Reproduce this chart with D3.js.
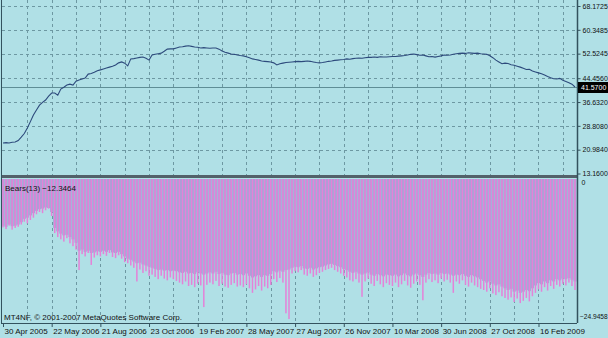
<!DOCTYPE html>
<html>
<head>
<meta charset="utf-8">
<script src="https://cdn.jsdelivr.net/npm/d3@7/dist/d3.min.js"></script>
<style>
  html, body { margin: 0; padding: 0; background: #b0e0e6; }
  svg { display: block; }
</style>
</head>
<body>
<div id="chart"></div>
<script>
const WIDTH = 608;
const HEIGHT = 338;
const FONT = '"Liberation Sans", Arial, sans-serif';

// weekly closes
const closes = [
  23.2, 23.3, 23.2, 23.4, 23.5, 24.0, 25.1, 26.3, 28.1, 30.2,
  32.4, 34.0, 35.6, 36.5, 37.3, 38.6, 39.6, 39.6, 38.9, 40.9,
  41.5, 42.2, 42.5, 42.2, 43.5, 43.9, 44.2, 44.5, 45.8, 46.0,
  46.4, 46.9, 47.2, 47.5, 47.8, 48.1, 48.4, 48.8, 49.5, 49.8,
  49.4, 48.5, 50.8, 50.9, 51.1, 51.3, 51.4, 51.0, 50.4, 52.1,
  52.3, 52.5, 52.7, 53.3, 54.0, 54.1, 54.1, 54.4, 54.7, 54.8,
  55.0, 55.1, 54.9, 54.7, 54.6, 54.4, 54.5, 54.4, 54.3, 54.4,
  54.4, 54.0, 53.4, 53.0, 52.7, 52.4, 52.3, 52.1, 51.9, 51.8,
  51.5, 51.2, 50.8, 50.6, 50.4, 50.1, 50.0, 49.9, 49.8, 49.5,
  48.8, 49.2, 49.4, 49.6, 49.7, 49.8, 49.9, 50.0, 49.9, 50.0,
  50.1, 50.0, 49.8, 49.6, 49.5, 49.6, 49.8, 50.0, 50.1, 50.3,
  50.4, 50.5, 50.6, 50.8, 50.7, 50.9, 51.0, 51.1, 51.0, 51.2,
  51.3, 51.3, 51.4, 51.3, 51.5, 51.4, 51.4, 51.5, 51.6, 51.6,
  51.7, 51.8, 51.9, 52.1, 52.3, 52.4, 52.2, 52.0, 52.1, 51.8,
  51.5, 51.6, 51.4, 51.6, 51.8, 52.1, 52.0, 52.1, 52.3, 52.5,
  52.6, 52.7, 52.6, 52.8, 52.7, 52.6, 52.7, 52.5, 52.4, 52.3,
  51.8, 51.2, 50.4, 49.8, 49.2, 49.4, 49.3, 48.9, 48.7, 48.4,
  48.1, 47.7, 47.3, 47.4, 46.8, 46.5, 46.2, 45.9, 45.5, 45.0,
  44.6, 44.3, 44.2, 44.4, 43.8, 43.4, 43.0, 42.5, 41.57
];

// Bears(13) histogram
const bears = [
  -8.5, -8.8, -8.2, -8.9, -8.6, -8.4, -8.0, -7.5, -7.8, -7.2,
  -6.8, -6.2, -5.8, -6.0, -5.5, -5.2, -6.5,
  -9.5, -10.2, -10.6, -11.0, -10.4, -11.3, -11.8, -12.4,
  -16.0, -13.2, -13.6, -13.0, -15.1, -13.8, -13.4, -13.6,
  -13.2, -13.5, -13.0, -13.7, -13.9, -13.4, -14.0, -14.6, -14.8,
  -15.2, -15.6, -18.0, -15.9, -16.5, -16.2, -17.0, -16.8,
  -17.2, -17.6, -17.0, -17.5, -17.8, -17.3, -17.6,
  -17.9, -18.2, -18.5, -18.0, -18.8, -18.6, -19.0, -18.4,
  -18.7, -22.5, -18.6,
  -18.2, -18.5, -17.9, -18.8, -18.4, -18.9, -19.1, -18.6, -18.3, -18.9, -18.7, -19.0, -18.5,
  -19.2, -20.0, -19.4, -18.8, -19.6, -18.9, -19.2, -18.6,
  -17.6, -18.1, -17.4, -18.2,
  -23.6, -24.6,
  -16.6, -16.2, -16.4, -16.0, -16.8,
  -17.0, -16.6, -17.2, -16.9, -16.5, -16.3, -16.0,
  -15.8, -15.6, -16.0, -16.3, -16.6, -17.0,
  -17.3, -17.8, -18.0, -17.6, -18.2, -20.7,
  -18.0, -17.5, -18.4, -18.8, -17.9, -18.5, -19.0, -18.3, -18.6,
  -18.8, -18.2, -19.0, -18.5, -17.9, -18.7, -19.1, -18.4, -18.0, -18.6, -21.3,
  -18.2, -17.6, -18.1, -17.8, -18.3, -17.5, -18.0, -17.7, -18.2,
  -20.0,
  -18.0, -18.4, -17.8, -18.6, -18.9, -18.2, -18.7, -19.0, -19.3,
  -19.5, -19.8, -19.2, -20.1, -20.4, -19.9, -20.6, -20.9,
  -21.2, -20.8, -21.6, -21.0, -21.8, -21.4, -20.9, -21.5, -20.6,
  -20.0, -19.4, -19.8, -19.0, -19.6, -18.8, -19.3, -18.6, -18.9, -18.4,
  -18.7, -18.2, -18.8, -19.5
];

// lighter band drawn between the bars
const bearsBand = [
  -8.2, -8.4, -8.0, -8.3, -8.2, -8.0, -7.6, -7.0, -6.8, -6.4,
  -6.0, -5.6, -5.3, -5.2, -5.0, -5.1, -5.8,
  -8.6, -9.2, -9.6, -9.9, -9.8, -10.2, -10.6, -11.2,
  -12.6, -12.4, -12.8, -12.6, -13.0, -12.9, -12.7, -12.8,
  -12.6, -12.8, -12.5, -12.9, -13.0, -12.8, -13.2, -13.6, -14.0,
  -14.2, -14.5, -14.8, -14.7, -15.0, -15.2, -15.4, -15.6,
  -15.8, -16.0, -15.9, -16.1, -16.0, -16.2, -16.1,
  -16.2, -16.4, -16.5, -16.3, -16.6, -16.5, -16.7, -16.4,
  -16.6, -16.8, -16.6,
  -16.4, -16.6, -16.3, -16.7, -16.5, -16.8, -16.9, -16.6, -16.5, -16.8, -16.7, -16.9, -16.6,
  -17.0, -17.3, -17.1, -16.9, -17.2, -16.9, -17.0, -16.7,
  -16.2, -16.4, -16.1, -16.3,
  -16.0, -15.9,
  -15.6, -15.4, -15.5, -15.3, -15.7,
  -15.8, -15.6, -15.9, -15.7, -15.5, -15.4, -15.2,
  -15.0, -14.9, -15.1, -15.3, -15.5, -15.8,
  -16.0, -16.3, -16.5, -16.3, -16.6, -16.8,
  -16.6, -16.4, -16.8, -17.0, -16.7, -16.9, -17.1, -16.8, -16.9,
  -17.0, -16.8, -17.1, -16.9, -16.6, -16.9, -17.1, -16.8, -16.6, -16.9, -17.2,
  -16.8, -16.5, -16.7, -16.6, -16.8, -16.5, -16.7, -16.6, -16.8,
  -17.0,
  -16.8, -16.9, -16.7, -17.0, -17.2, -16.9, -17.1, -17.3, -17.6,
  -17.9, -18.2, -18.0, -18.4, -18.7, -18.5, -18.9, -19.2,
  -19.5, -19.3, -19.8, -19.6, -20.0, -19.8, -19.5, -19.7, -19.2,
  -18.7, -18.3, -18.5, -18.0, -18.3, -17.8, -18.0, -17.6, -17.8, -17.5,
  -17.6, -17.4, -17.7, -18.0
];

const priceTicks = [68.1725, 60.3485, 52.5245, 44.4560, 36.6320, 28.8080, 20.9840, 13.1600];
const dateIndex = [0, 16, 32, 48, 64, 80, 96, 112, 128, 144, 160, 176];
const dateLabels = ['30 Apr 2005', '22 May 2006', '21 Aug 2006', '23 Oct 2006', '19 Feb 2007', '28 May 2007',
  '27 Aug 2007', '26 Nov 2007', '10 Mar 2008', '30 Jun 2008', '27 Oct 2008', '16 Feb 2009'];
const lastPrice = 41.57;
const bearsMin = -24.9458;
const bearsLast = -12.3464;

const COLORS = {
  bg: '#b0e0e6',
  grid: '#6d98a2',
  line: '#2d4a7c',
  level: '#5f8e96',
  axis: '#33525e',
  bar: '#e482d8',
  band: '#a2a5d5',
  text: '#111111'
};

const n = closes.length;
const plot = { left: 2, right: 577, top: 0, sep: 176, bottom: 323 };

const svg = d3.select('#chart')
  .append('svg')
  .attr('width', WIDTH)
  .attr('height', HEIGHT)
  .style('font-family', FONT);

svg.append('rect').attr('width', WIDTH).attr('height', HEIGHT).attr('fill', COLORS.bg);

const xScale = d3.scaleLinear().domain([0, n - 1]).range([3, 575]);
const yPrice = d3.scaleLinear().domain([13.16, 68.1725]).range([173.5, 6]);
const yBears = d3.scaleLinear().domain([bearsMin, 0]).range([321, 179]);
const step = xScale(1) - xScale(0);

// grid
const gridX = d3.range(8, n, 8);
svg.append('g')
  .selectAll('line')
  .data(gridX)
  .join('line')
  .attr('x1', (d) => Math.round(xScale(d)) + 0.5)
  .attr('x2', (d) => Math.round(xScale(d)) + 0.5)
  .attr('y1', plot.top)
  .attr('y2', plot.bottom)
  .attr('stroke', COLORS.grid)
  .attr('stroke-dasharray', '3,3');

svg.append('g')
  .selectAll('line')
  .data(priceTicks.slice(0, -1))
  .join('line')
  .attr('x1', plot.left)
  .attr('x2', plot.right)
  .attr('y1', (d) => Math.round(yPrice(d)) + 0.5)
  .attr('y2', (d) => Math.round(yPrice(d)) + 0.5)
  .attr('stroke', COLORS.grid)
  .attr('stroke-dasharray', '3,3');

// current price level
svg.append('line')
  .attr('x1', plot.left)
  .attr('x2', plot.right)
  .attr('y1', Math.round(yPrice(lastPrice)) + 0.5)
  .attr('y2', Math.round(yPrice(lastPrice)) + 0.5)
  .attr('stroke', COLORS.level);

// price line
svg.append('path')
  .datum(closes)
  .attr('fill', 'none')
  .attr('stroke', COLORS.line)
  .attr('stroke-width', 1.1)
  .attr('d', d3.line()
    .x((_d, i) => xScale(i))
    .y((d) => yPrice(d)));

// bears histogram
svg.append('g')
  .selectAll('rect')
  .data(bearsBand)
  .join('rect')
  .attr('x', (_d, i) => xScale(i) - step / 2)
  .attr('width', step)
  .attr('y', yBears(0))
  .attr('height', (d) => yBears(d) - yBears(0))
  .attr('fill', COLORS.band);

svg.append('g')
  .selectAll('rect')
  .data(bears)
  .join('rect')
  .attr('x', (_d, i) => xScale(i) - 0.75)
  .attr('width', 1.5)
  .attr('y', yBears(0))
  .attr('height', (d) => yBears(d) - yBears(0))
  .attr('fill', COLORS.bar);

// window borders
svg.append('rect')
  .attr('x', plot.left)
  .attr('y', plot.sep - 1)
  .attr('width', plot.right - plot.left)
  .attr('height', 3)
  .attr('fill', '#52616a');

svg.append('line')
  .attr('x1', 1.5).attr('x2', 1.5)
  .attr('y1', 0).attr('y2', plot.bottom)
  .attr('stroke', COLORS.axis);

svg.append('line')
  .attr('x1', 1).attr('x2', plot.right)
  .attr('y1', plot.bottom + 0.5).attr('y2', plot.bottom + 0.5)
  .attr('stroke', COLORS.axis);

// price axis
const priceAxis = svg.append('g')
  .attr('transform', `translate(${plot.right + 0.5},0)`)
  .call(d3.axisRight(yPrice).tickValues(priceTicks).tickFormat(d3.format('.4f')).tickSize(3).tickPadding(2));

// bears axis
const bearsAxis = svg.append('g')
  .attr('transform', `translate(${plot.right + 0.5},0)`)
  .call(d3.axisRight(yBears).tickValues([0, bearsMin]).tickFormat((d) => (d === 0 ? '0' : d3.format('.4f')(d))).tickSize(0).tickPadding(4));

bearsAxis.select('.domain').attr('d', `M0,${plot.sep}V${plot.bottom}`);
bearsAxis.selectAll('.tick').filter((d) => d === 0).attr('transform', 'translate(0,183)');
bearsAxis.selectAll('.tick').filter((d) => d !== 0).attr('transform', 'translate(0,317)')
  .select('text').attr('x', 2.5).attr('font-size', 6.6);

// date axis
const dateAxis = svg.append('g')
  .attr('transform', `translate(0,${plot.bottom})`)
  .call(d3.axisBottom(xScale).tickValues(dateIndex).tickFormat((_d, i) => dateLabels[i]).tickSize(4));

dateAxis.select('.domain').remove();
dateAxis.selectAll('text').attr('text-anchor', 'start').attr('x', 1).attr('dy', '0.55em');

[priceAxis, bearsAxis].forEach((g) => {
  g.attr('font-family', FONT).attr('font-size', 7);
});
dateAxis.attr('font-family', FONT).attr('font-size', 8);
[priceAxis, bearsAxis, dateAxis].forEach((g) => {
  g.selectAll('text').attr('fill', COLORS.text);
  g.selectAll('line, path').attr('stroke', COLORS.axis);
});
priceAxis.select('.domain').attr('d', `M0,0V${plot.bottom}`).attr('stroke-width', 1.5);

// last price label
const lastY = Math.round(yPrice(lastPrice));
svg.append('rect')
  .attr('x', plot.right + 1)
  .attr('y', lastY - 5)
  .attr('width', WIDTH - plot.right - 1)
  .attr('height', 11)
  .attr('fill', '#000');

svg.append('text')
  .attr('x', plot.right + 4)
  .attr('y', lastY + 3)
  .attr('font-size', 7)
  .attr('fill', '#fff')
  .text(d3.format('.4f')(lastPrice));

// indicator caption and copyright
svg.append('text')
  .attr('x', 5)
  .attr('y', 191)
  .attr('font-size', 8)
  .attr('fill', COLORS.text)
  .text(`Bears(13) ${d3.format('.4f')(bearsLast)}`);

svg.append('text')
  .attr('x', 4)
  .attr('y', 320)
  .attr('font-size', 8)
  .attr('fill', COLORS.text)
  .text('MT4NF, © 2001-2007 MetaQuotes Software Corp.');
</script>
</body>
</html>
